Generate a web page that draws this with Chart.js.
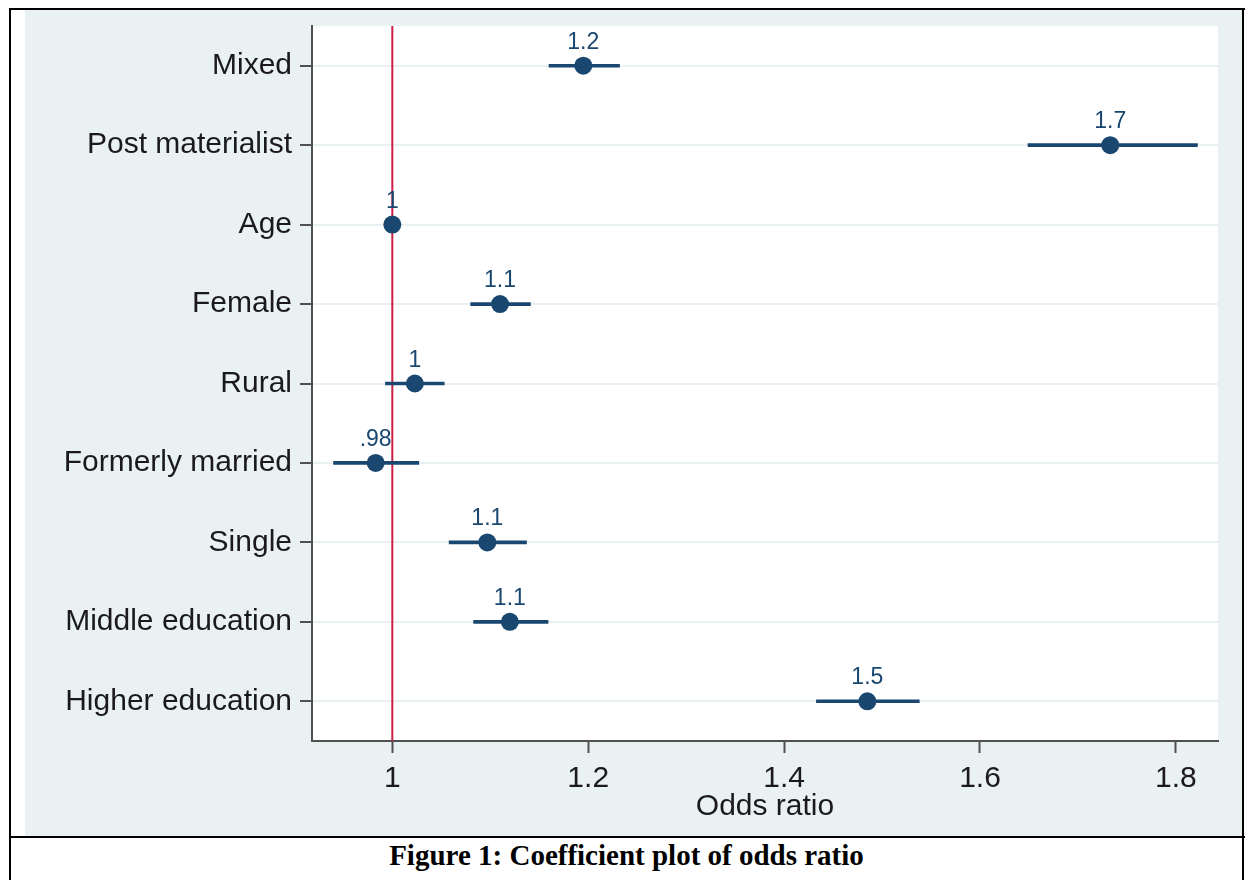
<!DOCTYPE html>
<html>
<head>
<meta charset="utf-8">
<script src="https://cdn.jsdelivr.net/npm/chart.js@4.4.1/dist/chart.umd.min.js"></script>
<style>
  html, body { margin:0; padding:0; background:#ffffff; width:1248px; height:880px; overflow:hidden; }
  #frame-left { position:absolute; left:9px; top:8px; width:2px; height:872px; background:#000; }
  #frame-right { position:absolute; left:1242px; top:8px; width:2px; height:872px; background:#000; }
  #frame-top { position:absolute; left:9px; top:8px; width:1236px; height:2px; background:#000; }
  #frame-mid { position:absolute; left:9px; top:836px; width:1236px; height:2px; background:#000; }
  #wrap { position:absolute; left:25px; top:10px; width:1217px; height:826px; background:#EAF1F3; }
  #caption { position:absolute; left:11px; width:1231px; top:839px; text-align:center;
             font-family:"Liberation Serif","Times New Roman",serif; font-weight:bold; font-size:29px; color:#000; }
</style>
</head>
<body>
<div id="wrap"><canvas id="c" width="1217" height="826"></canvas></div>
<div id="frame-left"></div>
<div id="frame-right"></div>
<div id="frame-top"></div>
<div id="frame-mid"></div>
<div id="caption">Figure 1: Coefficient plot of odds ratio</div>
<script>
// ---- data ----
const categories = ['Mixed','Post materialist','Age','Female','Rural','Formerly married','Single','Middle education','Higher education'];
const oddsRatio  = [1.195, 1.733, 1.000, 1.110, 1.023, 0.983, 1.097, 1.120, 1.485];
const ciLow      = [1.160, 1.649, 0.999, 1.080, 0.993, 0.940, 1.058, 1.083, 1.433];
const ciHigh     = [1.232, 1.822, 1.001, 1.141, 1.053, 1.027, 1.137, 1.159, 1.538];
const valueLabels = ['1.2','1.7','1','1.1','1','.98','1.1','1.1','1.5'];
const xTickValues = [1, 1.2, 1.4, 1.6, 1.8];
const xTickLabels = ['1','1.2','1.4','1.6','1.8'];
const referenceValue = 1;
const xMin = 0.918, xMax = 1.843;
const xTitle = 'Odds ratio';

const NAVY = '#1A476F';
const AXIS = '#505050';
const FONT = '"Liberation Sans", Arial, Helvetica, sans-serif';

const plotBgPlugin = {
  id: 'plotBg',
  beforeDraw(chart) {
    const {ctx, chartArea:a} = chart;
    ctx.save();
    ctx.fillStyle = '#ffffff';
    ctx.fillRect(a.left, a.top, a.right - a.left, a.bottom - a.top);
    ctx.restore();
  },
  beforeDatasetsDraw(chart) {
    const {ctx, chartArea:a, scales:{x}} = chart;
    const px = x.getPixelForValue(referenceValue);
    ctx.save();
    ctx.strokeStyle = '#CC1F45';
    ctx.lineWidth = 2;
    ctx.beginPath();
    ctx.moveTo(px, a.top);
    ctx.lineTo(px, a.bottom);
    ctx.stroke();
    ctx.restore();
  },
  afterDatasetsDraw(chart) {
    const {ctx} = chart;
    const meta = chart.getDatasetMeta(1);
    ctx.save();
    ctx.fillStyle = NAVY;
    ctx.font = '23px ' + FONT;
    ctx.textAlign = 'center';
    ctx.textBaseline = 'alphabetic';
    meta.data.forEach((pt, i) => {
      ctx.fillText(valueLabels[i], pt.x, pt.y - 17);
    });
    ctx.restore();
  }
};

new Chart(document.getElementById('c'), {
  data: {
    labels: categories,
    datasets: [
      {
        type: 'bar',
        data: categories.map((c, i) => [ciLow[i], ciHigh[i]]),
        backgroundColor: NAVY,
        borderWidth: 0,
        barThickness: 3,
        borderSkipped: false
      },
      {
        type: 'line',
        data: oddsRatio,
        showLine: false,
        pointRadius: 9,
        pointHoverRadius: 9,
        pointBackgroundColor: NAVY,
        pointBorderColor: NAVY,
        pointBorderWidth: 0
      }
    ]
  },
  options: {
    indexAxis: 'y',
    responsive: false,
    animation: false,
    layout: { padding: { left: 0, top: 16, right: 24, bottom: 0 } },
    plugins: { legend: { display: false }, tooltip: { enabled: false } },
    scales: {
      x: {
        type: 'linear',
        min: xMin,
        max: xMax,
        afterBuildTicks: (s) => { s.ticks = xTickValues.map(v => ({ value: v })); },
        afterFit: (s) => { s.height = 95; s.paddingLeft = 0; s.paddingRight = 0; },
        ticks: {
          autoSkip: false,
          maxRotation: 0,
          padding: 8,
          color: '#1a1a1a',
          font: { family: FONT, size: 30 },
          callback: (v) => { const i = xTickValues.indexOf(v); return i >= 0 ? xTickLabels[i] : ''; }
        },
        grid: { display: true, drawOnChartArea: false, drawTicks: true, tickLength: 12, tickColor: AXIS, tickWidth: 2 },
        border: { display: true, color: AXIS, width: 2 },
        title: { display: true, text: xTitle, color: '#1a1a1a', font: { family: FONT, size: 30, lineHeight: 1 }, padding: { top: 0, bottom: 14 } }
      },
      y: {
        type: 'category',
        offset: true,
        afterFit: (s) => { s.width = 287; s.paddingTop = 0; s.paddingBottom = 0; },
        ticks: {
          autoSkip: false,
          padding: 8,
          color: '#1a1a1a',
          font: { family: FONT, size: 30 }
        },
        grid: { display: true, offset: false, color: '#E8F0F2', lineWidth: 2, drawTicks: true, tickLength: 12, tickColor: AXIS, tickWidth: 2 },
        border: { display: true, color: AXIS, width: 2 }
      }
    }
  },
  plugins: [plotBgPlugin]
});
</script>
</body>
</html>
